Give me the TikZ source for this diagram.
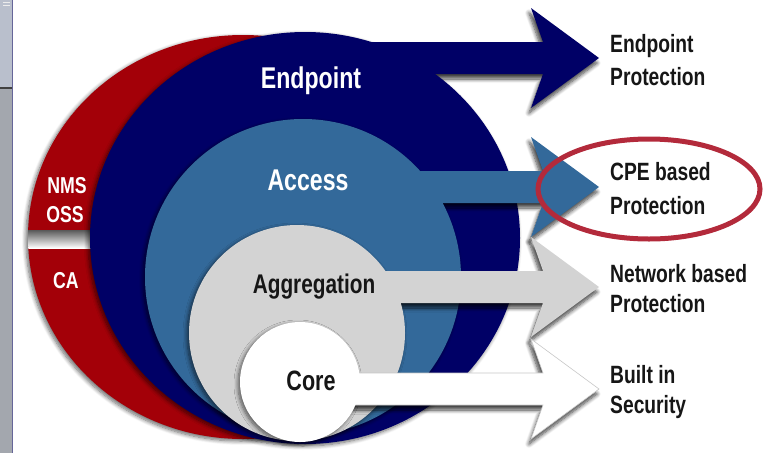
\documentclass[tikz,border=0pt]{standalone}
\usepackage{fontspec}
\newfontfamily\labfont[FakeStretch=0.77]{Liberation Sans}
\usetikzlibrary{shadows.blur}

\definecolor{mgmtred}{HTML}{A30008}
\definecolor{endnavy}{HTML}{000066}
\definecolor{accblue}{HTML}{33699A}
\definecolor{agggray}{HTML}{D3D3D3}
\definecolor{txtdark}{HTML}{161616}
\definecolor{ringred}{HTML}{B32A3B}
\definecolor{barlight}{HTML}{B9BFCC}
\definecolor{bardark}{HTML}{A3A7AE}

% swept arrow leaving a tier, #1 = centre line, #2 = start of shaft
\newcommand{\tierarrow}[2]{(#2,#1-16) -- (543,#1-16) -- (531,#1-50) -- (599,#1)
  -- (531,#1+50) -- (543,#1+16) -- (#2,#1+16) -- cycle}

\begin{document}
\begin{tikzpicture}[
  x=1pt,y=-1pt,
  ringshadow/.style={blur shadow={shadow xshift=-2pt,shadow yshift=-2pt,
      shadow blur radius=4pt,shadow blur steps=8,shadow opacity=60}},
  arrowshadow/.style={blur shadow={shadow xshift=-2pt,shadow yshift=-5pt,
      shadow blur radius=4pt,shadow blur steps=8,shadow opacity=75}},
  tierlab/.style={font=\labfont\bfseries\fontsize{30}{30}\selectfont,text=white,anchor=base,inner sep=0pt},
  mgmtlab/.style={font=\labfont\bfseries\fontsize{23}{23}\selectfont,text=white,anchor=base,inner sep=0pt},
  sidelab/.style={font=\labfont\bfseries\fontsize{25}{25}\selectfont,text=txtdark,anchor=base west,inner sep=0pt}
]
  \useasboundingbox (0,0) rectangle (767,453);

  % window edge on the left
  \fill[barlight] (0,0) rectangle (12,87);
  \fill[bardark] (0,89) rectangle (12,453);
  \draw[black!75,line width=2pt] (0,88) -- (12.5,88);
  \draw[gray!80!blue,line width=1pt] (12.5,0) -- (12.5,453);
  \draw[white!85!gray,line width=0.8pt] (3,2) -- (10,2) (3,5) -- (10,5);

  % management ring
  \path[ringshadow] (243,237) ellipse [x radius=215,y radius=202];
  \fill[mgmtred] (243,237) ellipse [x radius=215,y radius=202];
  \begin{scope}
    \clip (243,237) ellipse [x radius=215,y radius=202];
    \shade[top color=gray!70!black,bottom color=white] (20,230) rectangle (100,248);
  \end{scope}

  % endpoint tier
  \path[ringshadow] (305,238) ellipse [x radius=215,y radius=206];
  \path[arrowshadow] \tierarrow{58}{320};
  \fill[endnavy] (305,238) ellipse [x radius=215,y radius=206];
  \fill[endnavy] \tierarrow{58}{320};

  % access tier
  \path[ringshadow] (303,277) circle [radius=158];
  \path[arrowshadow] \tierarrow{187}{350};
  \fill[accblue] (303,277) circle [radius=158];
  \fill[accblue] \tierarrow{187}{350};

  % aggregation tier
  \path[ringshadow] (297,333) circle [radius=108];
  \path[arrowshadow] \tierarrow{287}{330};
  \fill[agggray] (297,333) circle [radius=108];
  \fill[agggray] \tierarrow{287}{330};

  % core tier
  \path[ringshadow] (300,382) circle [radius=60];
  \path[arrowshadow] \tierarrow{389}{320};
  \filldraw[fill=white,draw=black!22,line width=0.6pt] \tierarrow{389}{320};
  \fill[white] (300,382) circle [radius=60];

  % tier names
  \node[tierlab] (endpoint) at (311,88) {Endpoint};
  \node[tierlab] (access) at (308,190) {Access};
  \node[tierlab,text=txtdark,font=\labfont\bfseries\fontsize{27}{27}\selectfont] (aggregation) at (314,293) {Aggregation};
  \node[tierlab,text=txtdark,font=\labfont\bfseries\fontsize{28}{28}\selectfont] (core) at (311,390) {Core};

  \node[mgmtlab] (nms) at (67,193) {NMS};
  \node[mgmtlab] (oss) at (65,222) {OSS};
  \node[mgmtlab] (ca) at (66,288) {CA};

  % protection at each tier
  \node[sidelab] (endprot1) at (610,52) {Endpoint};
  \node[sidelab] (endprot2) at (610,85) {Protection};
  \node[sidelab] (cpeprot1) at (610,180) {CPE based};
  \node[sidelab] (cpeprot2) at (610,214) {Protection};
  \node[sidelab] (netprot1) at (610,282) {Network based};
  \node[sidelab] (netprot2) at (610,312) {Protection};
  \node[sidelab] (coresec1) at (610,383) {Built in};
  \node[sidelab] (coresec2) at (610,413) {Security};

  \draw[ringred,line width=5pt] (649,189) ellipse [x radius=111,y radius=50];
\end{tikzpicture}
\end{document}
